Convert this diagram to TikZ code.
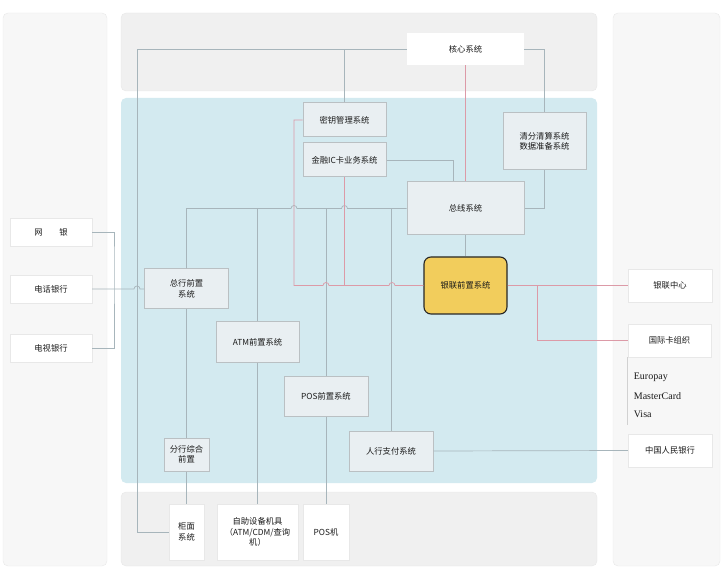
\documentclass[tikz,border=0pt]{standalone}
\usepackage{fontspec}
\setmainfont{Liberation Serif}
\newfontfamily\cjk{Noto Sans CJK SC}
\usepackage{xcolor}
\definecolor{sidepanel}{HTML}{F7F7F7}
\definecolor{sideline}{HTML}{E8E8E8}
\definecolor{greypanel}{HTML}{F0F0F0}
\definecolor{bluepanel}{HTML}{D3EAF0}
\definecolor{boxfill}{HTML}{E9EFF2}
\definecolor{boxline}{HTML}{BAC0C3}
\definecolor{linegray}{HTML}{A7B5BB}
\definecolor{linepink}{HTML}{DC9AA7}
\definecolor{cupyellow}{HTML}{F2CD5C}
\definecolor{txt}{HTML}{1A1A1A}

\begin{document}
\begin{tikzpicture}[x=1pt, y=-1pt,
    wh/.style 2 args={minimum width=#1, minimum height=#2},
    sysbox/.style={draw=boxline, line width=1pt, fill=boxfill, inner sep=0pt, align=center, text=txt, font=\cjk\fontsize{8.3}{10.5}\selectfont},
    outbox/.style={draw=sideline, line width=0.4pt, fill=white, inner sep=0pt, align=center, text=txt, font=\cjk\fontsize{8.3}{10.5}\selectfont},
    link/.style={draw=linegray, line width=0.7pt},
    cupline/.style={draw=linepink, line width=0.7pt}]
            \useasboundingbox (0,0) rectangle (723,569);

            % panels
            \filldraw[fill=sidepanel, draw=sideline, rounded corners=5pt](3, 13) rectangle (107, 566);
            \filldraw[fill=sidepanel, draw=sideline, rounded corners=5pt](613, 13) rectangle (720, 566);
            \filldraw[fill=greypanel, draw=sideline, rounded corners=5pt](121, 13) rectangle (597, 91);
            \fill[bluepanel, rounded corners=5pt](121, 98) rectangle (597, 483);
            \filldraw[fill=greypanel, draw=sideline, rounded corners=5pt](121, 492) rectangle (597, 566);

            % systems
            \node[outbox, draw=none, wh={117}{32}] (core) at (465.5, 49) {核心系统};
            \node[sysbox, wh={83}{34}] (key) at (344.5, 120) {密钥管理系统};
            \node[sysbox, wh={83}{34}] (ic) at (344.5, 160) {金融IC卡业务系统};
            \node[sysbox, wh={83}{57}] (clear) at (544.5, 141.5) {清分清算系统\\数据准备系统};
            \node[sysbox, wh={117}{53}] (bus) at (465.5, 208.5) {总线系统};
            \node[sysbox, wh={83}{57}, fill=cupyellow, draw=black!85, line width=1.1pt, rounded corners=7pt] (cup) at (465.5, 285.5) {银联前置系统};
            \node[sysbox, wh={84}{40}] (hq) at (186.5, 289) {总行前置\\系统};
            \node[sysbox, wh={83}{40}] (atm) at (257.5, 342) {ATM前置系统};
            \node[sysbox, wh={84}{40}] (pos) at (326, 396) {POS前置系统};
            \node[sysbox, wh={45}{33}] (branch) at (186.5, 454.5) {分行综合\\前置};
            \node[sysbox, wh={84}{40}] (pay) at (391, 451) {人行支付系统};

            % channels
            \node[outbox, wh={82}{28}] (net) at (51, 232) {网\hspace{2em}银};
            \node[outbox, wh={82}{28}] (tel) at (51, 289) {电话银行};
            \node[outbox, wh={82}{28}] (tv) at (51, 348) {电视银行};
            \node[outbox, wh={35}{56}] (counter) at (186.5, 532) {柜面\\系统};
            \node[outbox, wh={81}{56}] (self) at (257.5, 532) {自助设备机具\\（ATM/CDM/查询\\机）};
            \node[outbox, wh={46}{56}] (posm) at (326, 532) {POS机};

            % outside
            \node[outbox, wh={84}{33}] (cupc) at (670, 285.5) {银联中心};
            \node[outbox, wh={83}{33}] (intl) at (669.5, 340.5) {国际卡组织};
            \node[outbox, wh={84}{33}] (pboc) at (670, 450.5) {中国人民银行};

            \footnotesize{
                \node[anchor=west, font=\fontsize{10}{12}\selectfont, text=txt] (europay) at (631, 377) {Europay};
                \node[anchor=west, font=\fontsize{10}{12}\selectfont, text=txt] (mastercard) at (631, 396) {MasterCard};
                \node[anchor=west, font=\fontsize{10}{12}\selectfont, text=txt] (visa) at (631, 414) {Visa};
            }
            \draw[black!18, line width=0.8pt](intl.south west)--++(0, 68);

            % grey links
            \coordinate (corner) at (137, 49);
            \draw[link](core.west)--(corner)|-(counter.west);
            \draw[link](key.north)|-(core.west);
            \draw[link](core.east)-|(clear.north);
            \draw[link](clear.south)|-(bus.east);
            \draw[link](ic.east)-|([xshift=-12.5pt]bus.north);
            \draw[link](bus.south)--(cup.north);
            \draw[link](bus.west)--(347.5, 208.5)arc[start angle=0, end angle=-180, radius=3]
                --(297, 208.5)arc[start angle=0, end angle=-180, radius=3]-|(hq.north);
            \draw[link](atm.north)--(atm.north |- bus.west);
            \draw[link](pos.north)--(pos.north |- bus.west);
            \draw[link](pay.north)--(pay.north |- bus.west);
            \draw[link](hq.south)--(branch.north);
            \draw[link](branch.south)--(counter.north);
            \draw[link](atm.south)--(self.north);
            \draw[link](pos.south)--(posm.north);
            \draw[link](pay.east)--(pboc.west);
            \draw[link](net.east)-|(114, 260)|-(tv.east);
            \draw[link](tel.east)--(134, 289)arc[start angle=180, end angle=360, radius=3]--(hq.west);

            % union pay links
            \draw[cupline](core.south)--(bus.north);
            \draw[cupline](key.west)-|(294, 285.5)--(323, 285.5)arc[start angle=180, end angle=360, radius=3]
                --(389, 285.5)arc[start angle=180, end angle=360, radius=3]--(cup.west);
            \draw[cupline](ic.south)--(ic.south |- cup.west);
            \draw[cupline](cup.east)--(cupc.west);
            \draw[cupline](cup.east)--++(30, 0)|-(intl.west);

        \end{tikzpicture}
\end{document}
